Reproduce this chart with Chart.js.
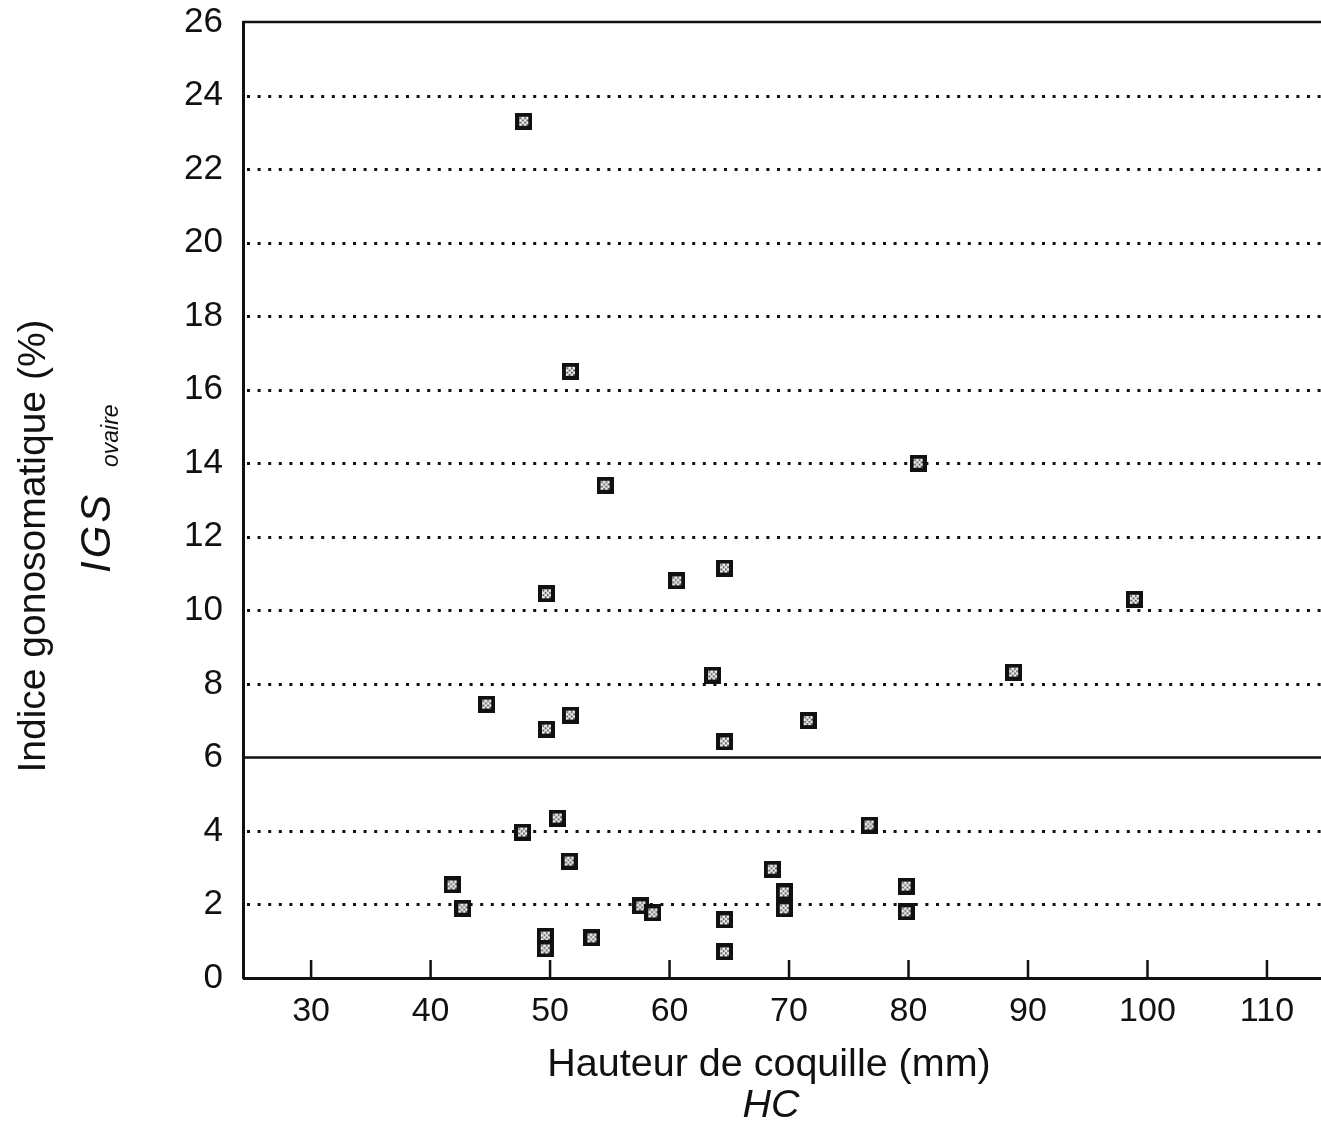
<!DOCTYPE html>
<html>
<head>
<meta charset="utf-8">
<script src="https://cdn.jsdelivr.net/npm/chart.js@4.4.1/dist/chart.umd.min.js"></script>
<style>
	html, body { margin: 0; background: #fff; overflow: hidden; }
	#igsChart { display: block; }
</style>
</head>
<body>
<canvas id="igsChart" width="1321" height="1122"></canvas>
<script>
	// shell height (mm) and ovary gonosomatic index (%)
	const shellHeights = [47.8, 51.7, 54.6, 80.8, 49.7, 60.6, 64.6, 98.9, 63.6, 88.8, 44.7, 49.7, 51.7, 71.6, 64.6, 47.7, 50.6, 76.7, 51.6, 41.8, 42.7, 68.6, 69.6, 69.6, 79.8, 79.8, 57.6, 58.6, 64.6, 49.6, 49.6, 53.5, 64.6];
	const igsValues = [23.3, 16.5, 13.4, 14.0, 10.45, 10.8, 11.15, 10.3, 8.24, 8.32, 7.45, 6.77, 7.15, 7.0, 6.42, 3.97, 4.35, 4.16, 3.18, 2.53, 1.9, 2.96, 2.34, 1.88, 2.5, 1.8, 1.96, 1.77, 1.58, 1.14, 0.79, 1.09, 0.71];
	const xTickValues = [30, 40, 50, 60, 70, 80, 90, 100, 110];
	const yTickValues = [0, 2, 4, 6, 8, 10, 12, 14, 16, 18, 20, 22, 24, 26];
	const dottedGridValues = [2, 4, 8, 10, 12, 14, 16, 18, 20, 22, 24];
	const solidGridValues = [6];

	const fontFamily = "'Liberation Sans', Arial, Helvetica, sans-serif";
	const ink = '#111';

	function makeMarker() {
		const c = document.createElement('canvas');
		c.width = 17;
		c.height = 17;
		const g = c.getContext('2d');
		g.fillStyle = ink;
		g.fillRect(0, 0, 17, 17);
		g.fillStyle = '#f4f4f4';
		g.fillRect(4, 4, 9, 9);
		g.fillStyle = '#444';
		for (let i = 0; i < 4; i++) {
			for (let j = 0; j < 4; j++) {
				if ((i + j) % 2 === 0) {
					g.fillRect(4.5 + i * 2.2, 4.5 + j * 2.2, 1.8, 1.8);
				}
			}
		}
		return c;
	}

	const frameLines = {
		id: 'frameLines',
		beforeDatasetsDraw(chart) {
			const { ctx, chartArea, scales } = chart;
			ctx.save();
			ctx.strokeStyle = ink;

			// dotted horizontal grid
			ctx.lineWidth = 3;
			ctx.setLineDash([3, 7.6]);
			dottedGridValues.forEach((v) => {
				const y = Math.round(scales.y.getPixelForValue(v)) + 0.5;
				ctx.beginPath();
				ctx.moveTo(chartArea.left + 4, y);
				ctx.lineTo(chart.width, y);
				ctx.stroke();
			});

			// solid threshold line and top frame
			ctx.setLineDash([]);
			ctx.lineWidth = 2.5;
			solidGridValues.concat([26]).forEach((v) => {
				const y = scales.y.getPixelForValue(v);
				ctx.beginPath();
				ctx.moveTo(chartArea.left, y);
				ctx.lineTo(chart.width, y);
				ctx.stroke();
			});

			// x axis line carried to the page edge, with inward tick marks
			ctx.lineWidth = 3;
			ctx.beginPath();
			ctx.moveTo(chartArea.left, chartArea.bottom + 0.5);
			ctx.lineTo(chart.width, chartArea.bottom + 0.5);
			ctx.stroke();
			ctx.lineWidth = 2.5;
			xTickValues.forEach((v) => {
				const x = scales.x.getPixelForValue(v);
				ctx.beginPath();
				ctx.moveTo(x, chartArea.bottom);
				ctx.lineTo(x, chartArea.bottom - 18);
				ctx.stroke();
			});
			ctx.restore();
		},
		afterDraw(chart) {
			const { ctx } = chart;
			ctx.save();
			ctx.fillStyle = ink;
			ctx.textAlign = 'center';
			ctx.textBaseline = 'alphabetic';

			ctx.font = `39.5px ${fontFamily}`;
			ctx.fillText('Hauteur de coquille (mm)', 769, 1076);
			ctx.font = `italic 39.5px ${fontFamily}`;
			ctx.fillText('HC', 771, 1117);

			ctx.translate(45, 546);
			ctx.rotate(-Math.PI / 2);
			ctx.font = `39px ${fontFamily}`;
			ctx.fillText('Indice gonosomatique (%)', 0, 0);
			ctx.textAlign = 'left';
			ctx.font = `italic 42px ${fontFamily}`;
			ctx.letterSpacing = '3px';
			ctx.fillText('IGS', -27, 65);
			ctx.letterSpacing = '0px';
			ctx.font = `italic 23px ${fontFamily}`;
			ctx.fillText('ovaire', 79, 73);
			ctx.restore();
		}
	};

	new Chart(document.getElementById('igsChart'), {
		type: 'scatter',
		data: {
			datasets: [{
				data: shellHeights.map((x, i) => ({ x, y: igsValues[i] })),
				pointStyle: makeMarker(),
				pointRadius: 8,
				pointHoverRadius: 8
			}]
		},
		options: {
			responsive: false,
			animation: false,
			layout: { padding: { top: 22, right: 0, left: 0, bottom: 0 } },
			plugins: {
				legend: { display: false },
				tooltip: { enabled: false }
			},
			scales: {
				x: {
					type: 'linear',
					min: 24.3,
					max: 113.77,
					afterBuildTicks(scale) {
						scale.ticks = xTickValues.map((value) => ({ value }));
					},
					afterFit(scale) {
						scale.height = 144;
						scale.paddingLeft = 0;
						scale.paddingRight = 0;
					},
					grid: { display: false, drawTicks: false },
					border: { display: false },
					ticks: {
						color: ink,
						padding: 13,
						maxRotation: 0,
						autoSkip: false,
						font: { family: fontFamily, size: 34 }
					}
				},
				y: {
					type: 'linear',
					min: 0,
					max: 26,
					afterBuildTicks(scale) {
						scale.ticks = yTickValues.map((value) => ({ value }));
					},
					afterFit(scale) {
						scale.width = 243;
						scale.paddingTop = 0;
						scale.paddingBottom = 0;
					},
					grid: { display: false, drawTicks: false },
					border: { display: true, color: ink, width: 3 },
					ticks: {
						color: ink,
						padding: 20,
						autoSkip: false,
						font: { family: fontFamily, size: 35 }
					}
				}
			}
		},
		plugins: [frameLines]
	});
</script>
</body>
</html>
